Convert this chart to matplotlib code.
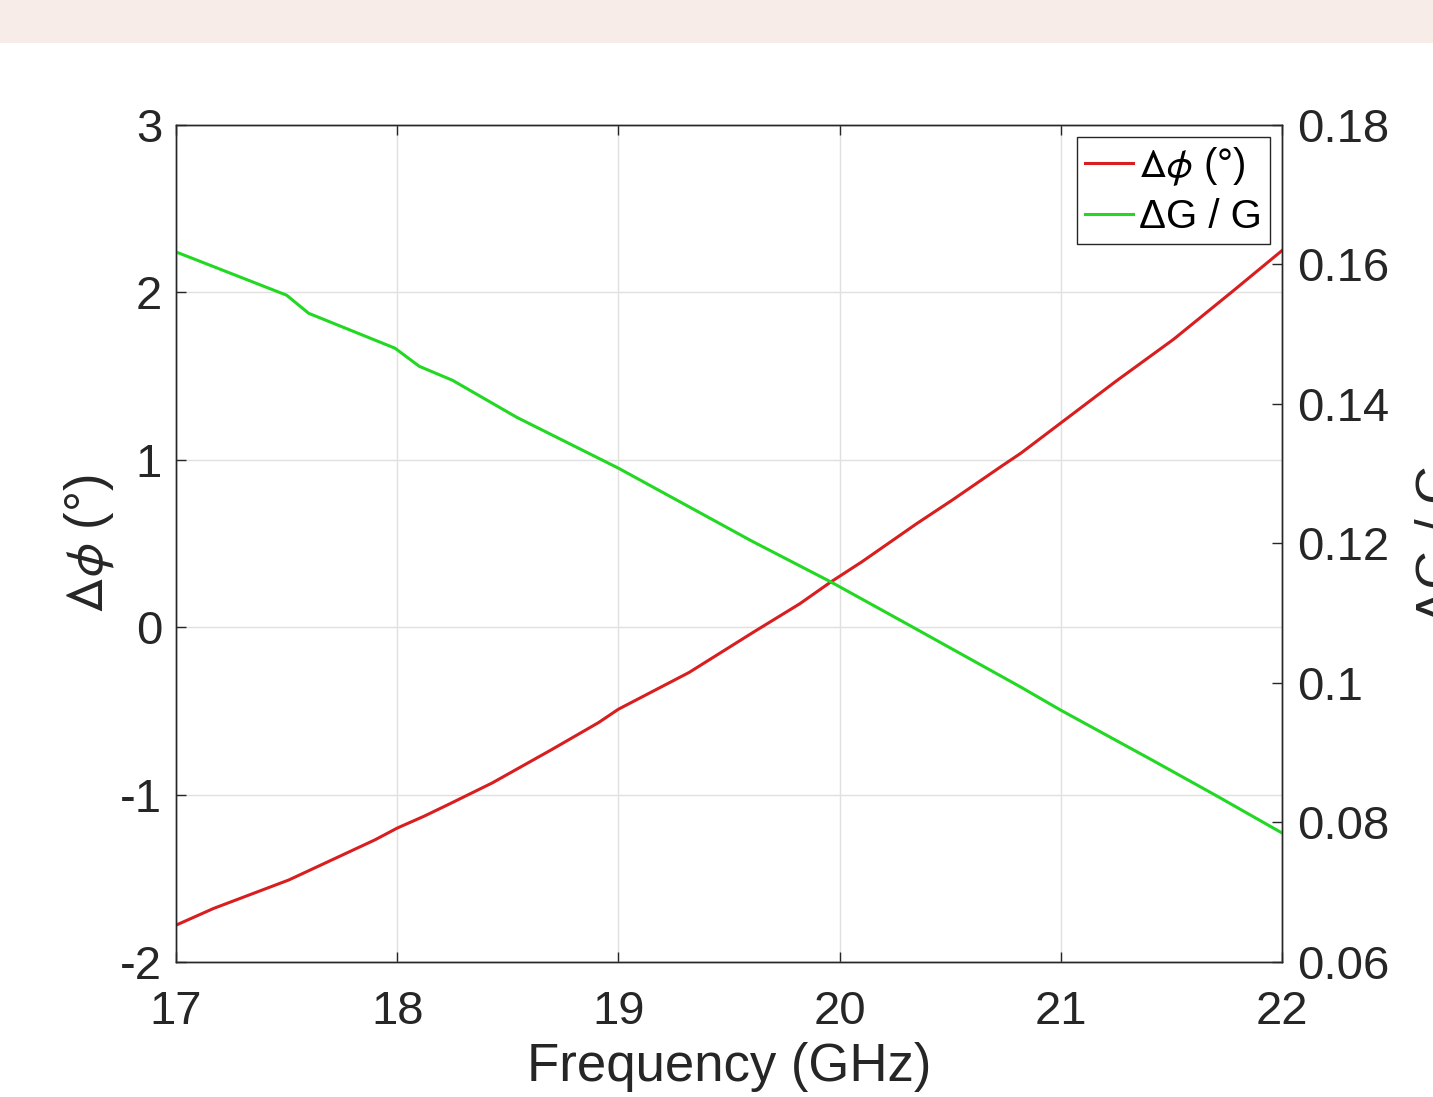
import numpy as np
import matplotlib.pyplot as plt
from matplotlib.patches import Rectangle

plt.rcParams['font.family'] = ['Liberation Sans', 'DejaVu Sans']
plt.rcParams['mathtext.fontset'] = 'stixsans'

# phase difference (deg) vs frequency
freq_phi = [17.0, 17.17, 17.51, 17.9, 18.0, 18.12, 18.23, 18.43, 18.7, 18.91, 19.0,
            19.32, 19.61, 19.82, 19.96, 20.1, 20.35, 20.51, 20.73, 20.82, 21.0,
            21.25, 21.51, 21.78, 22.0]
dphi = [-1.78, -1.68, -1.51, -1.27, -1.20, -1.13, -1.06, -0.93, -0.73, -0.57, -0.49,
        -0.27, -0.03, 0.14, 0.27, 0.39, 0.62, 0.76, 0.96, 1.04, 1.22,
        1.47, 1.72, 2.01, 2.25]

# relative gain difference vs frequency
freq_g = [17.0, 17.5, 17.6, 17.99, 18.1, 18.25, 18.54, 19.0, 19.6, 19.96, 20.0,
          20.32, 20.82, 21.0, 21.41, 21.7, 22.0]
dg = [0.1618, 0.1556, 0.1530, 0.1480, 0.1454, 0.1434, 0.1381, 0.1308, 0.1204,
      0.1145, 0.1138, 0.1082, 0.0994, 0.0961, 0.0890, 0.0839, 0.0785]

xticks = [17, 18, 19, 20, 21, 22]
yticks_l = [-2, -1, 0, 1, 2, 3]
yticks_r = [0.06, 0.08, 0.1, 0.12, 0.14, 0.16, 0.18]
yticklabels_r = ['0.06', '0.08', '0.1', '0.12', '0.14', '0.16', '0.18']

W, H = 1433, 1097
fig = plt.figure(figsize=(W / 100, H / 100), dpi=100)
fig.patches.append(Rectangle((0, 1 - 43 / H), 1, 43 / H, transform=fig.transFigure,
                             facecolor='#F7ECE7', edgecolor='none', zorder=0))

ax = fig.add_axes([176 / W, 1 - 962 / H, (1282 - 176) / W, (962 - 125) / H])
ax2 = ax.twinx()

tc = '#262626'
l1, = ax.plot(freq_phi, dphi, color='#D81E1E', lw=2.2, label=r'$\Delta\phi$ (°)')
l2, = ax2.plot(freq_g, dg, color='#22D822', lw=2.2, label='ΔG / G')

ax.set_xlim(17, 22)
ax.set_ylim(-2, 3)
ax2.set_ylim(0.06, 0.18)
ax.set_xticks(xticks)
ax.set_yticks(yticks_l)
ax.set_yticklabels([str(v) for v in yticks_l])
ax2.set_yticks(yticks_r)
ax2.set_yticklabels(yticklabels_r)

ax.grid(True, color='#E0E0E0', lw=1)
ax.set_axisbelow(True)

ax.tick_params(axis='x', direction='in', length=7, width=1, pad=20, labelsize=34,
               top=True, colors=tc)
ax.tick_params(axis='y', direction='in', length=7, width=1, pad=10, labelsize=34,
               right=False, colors=tc)
ax2.tick_params(axis='y', direction='in', length=7, width=1, pad=11, labelsize=34,
                colors=tc)
for a in (ax, ax2):
    for s in a.spines.values():
        s.set_color(tc)
        s.set_linewidth(1)

ax.set_xlabel('Frequency (GHz)', fontsize=38, color=tc, labelpad=6)
ax.set_ylabel(r'$\Delta\phi$ (°)', fontsize=38, color=tc, labelpad=2)
ax2.set_ylabel('ΔG / G', fontsize=38, color=tc, labelpad=18)

leg = ax.legend(handles=[l1, l2], loc='upper right', fontsize=29, fancybox=False,
                framealpha=1, edgecolor=tc, handlelength=1.2, handletextpad=0.15,
                labelspacing=0.25, borderpad=0.2, borderaxespad=0.3)
leg.get_frame().set_linewidth(1)
leg.set_zorder(5)

fig.savefig('out.png', dpi=100)
